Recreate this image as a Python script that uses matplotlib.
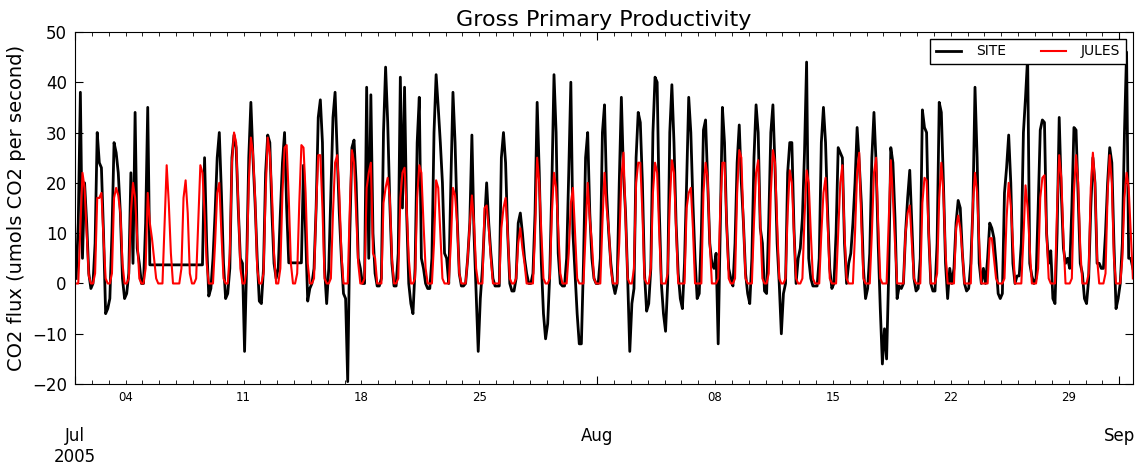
import matplotlib
matplotlib.use("Agg")
import matplotlib.pyplot as plt
import matplotlib.dates as mdates
import numpy as np
import pandas as pd


# 3-hourly GPP, one row per day (01:30, 04:30, ... 22:30), 1 Jul - 1 Sep 2005
site_gpp = [
    [1, 12, 38, 5, 20, 12, 2, -1],
    [0, 8, 30, 24, 23, 10, -6, -5],
    [-3, 10, 28, 26, 22, 14, 1, -3],
    [-2, 2, 22, 4, 34, 7, 4, 0],
    [0, 12, 35, 3.7, 3.7, 3.7, 3.7, 3.7],
    [3.7, 3.7, 3.7, 3.7, 3.7, 3.7, 3.7, 3.7],
    [3.7, 3.7, 3.7, 3.7, 3.7, 3.7, 3.7, 3.7],
    [3.7, 3.7, 3.7, 3.7, 3.7, 25, 8, -2.5],
    [-1, 5, 14, 25, 30, 18, 4, -3],
    [-2, 3, 25, 29.5, 27, 15, 5, 4],
    [-13.5, 4, 25, 36, 25, 16, 5, -3.5],
    [-4, 3, 22, 29.5, 28, 14, 4, 1],
    [3, 14, 24, 30, 15, 4.1, 4.1, 4.1],
    [4.1, 4.1, 4.1, 4.1, 23.5, 10, -3.5, -1],
    [0, 3, 15, 33, 36.5, 28, 3, -4],
    [3, 18, 33, 38, 26, 14, 5, -2],
    [-3, -19.5, 10, 27, 28.5, 20, 5, 3],
    [0, 0, 39, 5, 37.5, 10, 2, -0.5],
    [-0.5, 1, 30, 43, 32, 16, 4, -0.5],
    [-0.5, 6, 41, 15, 39, 14, 0, -4],
    [-6, 3, 28, 37, 5, 3, 0, -1],
    [-1, 5, 30, 41.5, 35, 28, 20, 6],
    [5, 0, 20, 38, 28, 13, 2, -0.5],
    [-0.5, 0, 5, 12, 29.5, 10, -2, -13.5],
    [-3, 3, 12, 20, 12, 6, 1, -0.5],
    [-0.5, -0.5, 25, 30, 24, 10, 0, -1.5],
    [-1.5, 1, 12, 14, 10, 5, 2, 0],
    [0, 2, 14, 36, 22, 4, -6, -11],
    [-8, 2, 20, 41.5, 30, 6, 0, -0.5],
    [-0.5, 5, 22, 40, 10, 2, -6, -12],
    [-12, 4, 25, 30, 14, 5, 1, 0],
    [0, 5, 30, 35.5, 18, 10, 4, 0],
    [-2, 0, 20, 37, 22, 14, 1, -13.5],
    [-4, -1, 25, 34, 32, 20, 2, -5.5],
    [-4, 3, 30, 41, 40, 15, 0, -6],
    [-9.5, 0, 30, 39.5, 28, 12, 2, -3],
    [-5, 4, 20, 37, 30, 16, 5, -3],
    [-2, 10, 30.5, 32.5, 20, 8, 4, 3],
    [6, -12, 12, 35, 28, 12, 3, 1],
    [-0.5, 8, 24, 31.5, 20, 12, 2, -2],
    [-4, 5, 25, 35.5, 30, 11, 8, -1.5],
    [-2, 12, 30, 35.5, 23, 8, 0, -10],
    [-2, 0, 22, 28, 28, 11, 0, 5],
    [7, 13, 26, 44, 5, 1, -0.5, -0.5],
    [-0.5, 5, 28, 35, 28, 14, 3, -1],
    [0, 10, 27, 26, 25, 8, 0, 4],
    [6, 12, 20, 31, 24, 16, 3, -3],
    [-1, 6, 25, 34, 24, 8, -5, -16],
    [-9, -15, 2, 27, 24, 13, -3, -0.5],
    [-1, 0, 10, 17, 22.5, 12, 1, -1.5],
    [-1, 5, 34.5, 31, 30, 10, 0, -1.5],
    [-1.5, 8, 36, 34, 20, 4, -3, 3],
    [0, 3, 12, 16.5, 15, 6, 0, -1.5],
    [-1, 4, 15, 39, 25, 4, 0, 3],
    [0, 5, 12, 11, 9, 4, -2, -3],
    [-2, 18, 23, 29.5, 20, 4, 0, 1.5],
    [1.5, 8, 30, 37, 45, 4, 1.5, 0],
    [1, 15, 30.5, 32.5, 32, 10, 4, 6.5],
    [-3, -4, 10, 33, 18, 7, 4, 5],
    [3, 15, 31, 30.5, 17, 4, 2, -3],
    [-4, 1, 15, 25, 20, 4, 4, 3],
    [3, 10, 20, 27, 24, 8, -5, -3],
    [0, 8, 30, 46, 5, 5, 3],
]

jules_gpp = [
    [0, 0, 11, 22, 19, 10, 1.5, 0],
    [0, 2, 17, 17, 18, 9, 1, 0],
    [0, 2, 17, 19, 17.5, 14, 4, 0],
    [0, 1, 14, 20, 17, 9, 1, 0],
    [0, 3, 18, 12, 9, 5, 1, 0],
    [0, 0, 12, 23.5, 16, 6, 0, 0],
    [0, 0, 3, 17, 20.5, 14, 2, 0],
    [0, 1, 12, 23.5, 22, 14, 4, 0],
    [0, 0, 8, 18, 20, 10, 1, 0],
    [0, 6, 24, 30, 28, 16, 3, 0],
    [0, 3, 20, 29, 26, 17, 3, 0],
    [0, 2, 18, 29, 26, 18, 6, 0],
    [0, 3, 18, 27, 27.5, 17, 4, 0],
    [0, 2, 16, 27.5, 27, 18, 4, 0],
    [0, 1, 15, 25.5, 25.5, 15, 1, 0],
    [0, 1, 14, 24, 25.5, 18, 6, 0],
    [0, 0, 15, 26.5, 24, 14, 4, 0],
    [0, 1, 19, 22, 24, 6, 5, 0],
    [0, 0, 16, 19, 21, 17, 5, 0],
    [0, 1, 17, 22, 23, 15, 5, 0],
    [0, 1, 17, 23.5, 22, 12, 3, 0],
    [0, 0, 8, 20.5, 19, 10, 1, 0],
    [0, 0, 8, 19, 17.5, 12, 2, 0],
    [0, 0, 5, 12, 17.5, 12, 3, 0],
    [0, 0, 15, 15.5, 11, 5, 0, 0],
    [0, 0, 11, 15, 17, 10, 1, 0],
    [0, 1, 8, 11, 7, 4, 0, 0],
    [0, 0, 10, 25, 20, 10, 1, 0],
    [0, 1, 14, 22, 19, 11, 2, 0],
    [0, 0, 6, 16, 19, 10, 1, 0],
    [0, 0, 10, 20, 13, 8, 1, 0],
    [0, 0, 12, 22, 15, 11, 3, 0],
    [0, 0, 8, 21, 26, 13, 1, 0],
    [0, 3, 20, 24, 24, 14, 1, 0],
    [0, 3, 18, 24, 22, 10, 0, 0],
    [0, 2, 16, 24.5, 22, 11, 0, 0],
    [0, 0, 15, 18, 19, 11, 0, 0],
    [0, 0, 18, 24, 21, 8, 0, 0],
    [0, 1, 15, 24, 24, 12, 1, 0],
    [0, 1, 18, 26.5, 25, 12, 1, 0],
    [0, 0, 12, 22, 24.5, 12, 1, 0],
    [0, 2, 18, 26.5, 24, 12, 1, 0],
    [0, 1, 14, 22.5, 20, 10, 1, 0],
    [0, 1, 13, 22.5, 20, 10, 1, 0],
    [0, 0, 10, 18, 21, 12, 1, 0],
    [0, 0, 10, 20, 23.5, 10, 1, 0],
    [0, 0, 10, 22, 26, 12, 1, 0],
    [0, 0, 10, 22, 25, 12, 1, 0],
    [0, 0, 12, 24.5, 17, 8, 0, 0],
    [0, 0, 10, 14, 15.5, 8, 1, 0],
    [0, 0, 16, 21, 20.5, 10, 0, 0],
    [0, 2, 17, 24, 18, 6, 0, 0],
    [0, 0, 11, 13.5, 11, 6, 0, 0],
    [0, 0, 16, 22, 18, 8, 0, 0],
    [0, 0, 9, 9, 5, 1, 0, 0],
    [0, 1, 13, 20, 15.5, 8, 0, 0],
    [0, 0, 9, 19.5, 15, 7, 0, 0],
    [0, 3, 17, 21, 21.5, 10, 1, 0],
    [0, 0, 15, 25.5, 21, 9, 0, 0],
    [0, 1, 18, 25.5, 20, 7, 0, 0],
    [0, 2, 19, 26, 20, 5, 0, 0],
    [0, 2, 18, 25.5, 20, 5, 0, 0],
    [0, 5, 17, 22, 19, 10, 1],
]

site = np.concatenate([np.array(d, dtype=float) for d in site_gpp])
jules = np.concatenate([np.array(d, dtype=float) for d in jules_gpp])
times = pd.date_range("2005-07-01 01:30", periods=len(site), freq="3h")

fig = plt.figure(figsize=(11.38, 4.69), dpi=100)
ax = fig.add_axes([0.066, 0.181, 0.9295, 0.751])

ax.plot(times, site, color="black", lw=2, label="SITE")
ax.plot(times, jules, color="red", lw=1.5, label="JULES")

ax.set_xlim(pd.Timestamp("2005-07-01 00:00"), times[-1])
ax.set_ylim(-20, 50)
ax.set_yticks(np.arange(-20, 51, 10))

# months as major ticks, days as minor ticks labelled on Mondays
def month_fmt(x, pos):
    d = mdates.num2date(x)
    if d.month == 7:
        return d.strftime("%b\n%Y")
    return d.strftime("%b")

def day_fmt(x, pos):
    d = mdates.num2date(x)
    return d.strftime("%d") if d.weekday() == 0 else ""

ax.xaxis.set_major_locator(mdates.MonthLocator())
ax.xaxis.set_major_formatter(plt.FuncFormatter(month_fmt))
ax.xaxis.set_minor_locator(mdates.DayLocator())
ax.xaxis.set_minor_formatter(plt.FuncFormatter(day_fmt))

ax.tick_params(axis="both", which="both", direction="in", top=True, right=True)
ax.tick_params(axis="x", which="major", length=6, pad=31, labelsize=12)
ax.tick_params(axis="x", which="minor", length=3, pad=5, labelsize=8.5)
ax.tick_params(axis="y", which="major", length=6, pad=6, labelsize=12)

ax.set_title("Gross Primary Productivity", fontsize=16, pad=4)
ax.set_ylabel("CO2 flux (umols CO2 per second)", fontsize=14, labelpad=4)

leg = ax.legend(loc="upper right", ncol=2, fontsize=10, fancybox=False,
                framealpha=1, edgecolor="black", handlelength=1.8,
                handletextpad=1.1, columnspacing=2.5, borderaxespad=0.5)
leg.get_frame().set_linewidth(1)

plt.savefig("out.png", dpi=100)
